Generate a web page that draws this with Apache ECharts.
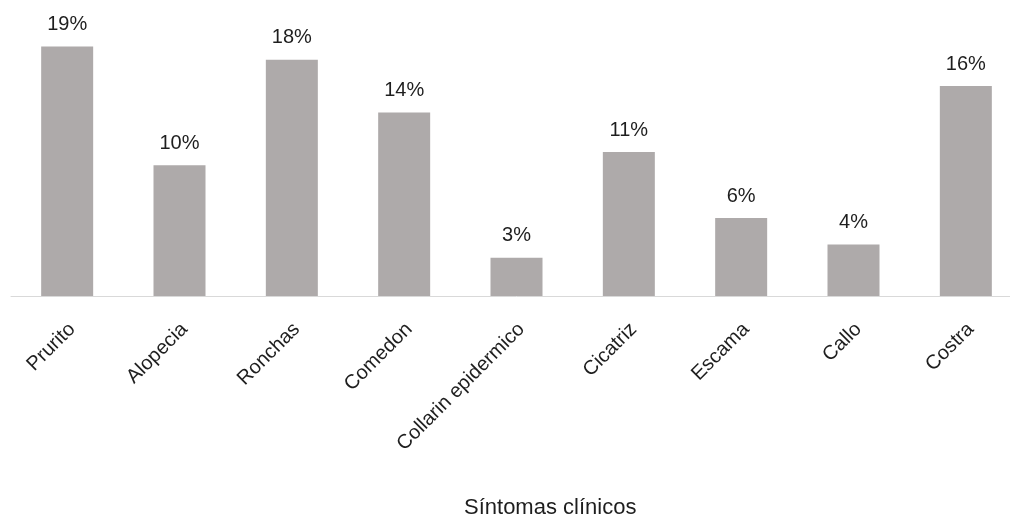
<!DOCTYPE html>
<html>
<head>
<meta charset="utf-8">
<script src="https://cdn.jsdelivr.net/npm/echarts@6/dist/echarts.min.js"></script>
<style>
  html, body { margin: 0; padding: 0; background: #fff; overflow: hidden; }
  /* the plot runs past the right edge of the picture, so the canvas is wider than the window */
  #pic1 { width: 1030px; height: 520px; }
</style>
</head>
<body>
<div id="pic1"></div>
<script>
var categories = ['Prurito', 'Alopecia', 'Ronchas', 'Comedon', 'Collarin epidermico', 'Cicatriz', 'Escama', 'Callo', 'Costra'];
// porcentaje de casos por síntoma
var values = [18.9, 9.9, 17.9, 13.9, 2.9, 10.9, 5.9, 3.9, 15.9];
var axisTitle = 'Síntomas clínicos';

var font = '"Liberation Sans", Arial, sans-serif';

var pic1 = echarts.init(document.getElementById('pic1'));

var option = {
    animation: false,
    title: {
        text: axisTitle,
        left: 459,
        top: 492,
        textStyle: { fontFamily: font, fontSize: 22, fontWeight: 'normal', color: '#1e1e1e' }
    },
    grid: { left: 11, top: 32, width: 1011, height: 264 },
    xAxis: {
        type: 'category',
        data: categories,
        axisLine: { lineStyle: { color: '#d9d9d9', width: 1 } },
        axisTick: { show: false },
        axisLabel: {
            rotate: 45,
            interval: 0,
            margin: 21,
            verticalAlign: 'top',
            padding: [0, 3, 0, 0],
            fontFamily: font,
            fontSize: 20,
            color: '#1e1e1e'
        }
    },
    yAxis: {
        type: 'value',
        min: 0,
        max: 20,
        show: false,
        splitLine: { show: false }
    },
    series: [
        {
            type: 'bar',
            data: values,
            barWidth: 52,
            itemStyle: { color: '#aeaaaa' },
            label: {
                show: true,
                position: 'top',
                distance: 12,
                fontFamily: font,
                fontSize: 20,
                color: '#1e1e1e',
                formatter: function (p) { return Math.round(p.value) + '%'; }
            }
        }
    ]
};

pic1.setOption(option);
</script>
</body>
</html>
